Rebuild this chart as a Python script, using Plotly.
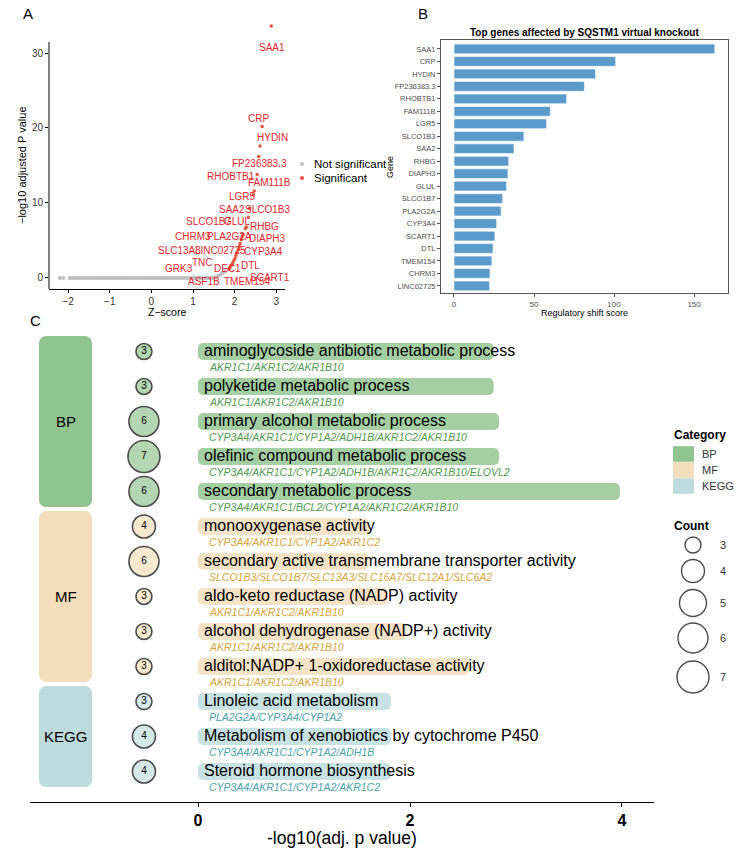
import plotly.graph_objects as go

W, H = 752, 856
FONT = "Liberation Sans, Arial, sans-serif"


def fx(p):
    return p / W


def fy(p):
    return 1 - p / H


# ---------------- Panel A : volcano ----------------
ns_z = [-2.20, -2.12, -1.96, -1.90, -1.84, -1.78, -1.72, -1.66, -1.60, -1.54, -1.48,
        -1.42, -1.36, -1.30, -1.24, -1.18, -1.12, -1.06, -1.00, -0.94, -0.88, -0.82,
        -0.76, -0.70, -0.64, -0.58, -0.52, -0.46, -0.40, -0.34, -0.28, -0.22, -0.16,
        -0.10, -0.04, 0.02, 0.08, 0.14, 0.20, 0.26, 0.32, 0.38, 0.44, 0.50, 0.56,
        0.62, 0.68, 0.74, 0.80, 0.86, 0.92, 0.98, 1.04, 1.10, 1.16, 1.22, 1.28,
        1.34, 1.40, 1.46, 1.52, 1.57, 1.62, 1.67, 1.72, 1.77]
ns_p = [0.0] * 60 + [0.05, 0.15, 0.3, 0.5, 0.7, 0.9]

sig_genes = ["SAA1", "CRP", "HYDIN", "FP236383.3", "RHOBTB1", "FAM111B", "LGR5",
             "SLCO1B3", "SAA2", "GLUL", "RHBG", "SLCO1B7", "DIAPH3", "PLA2G2A",
             "CYP3A4", "LINC02725", "CHRM3", "SLC13A3", "DTL", "TMEM154", "SCART1",
             "DEC1", "TNC", "GRK3", "ASF1B"]
sig_z = [2.88, 2.66, 2.61, 2.58, 2.54, 2.47, 2.45, 2.36, 2.33, 2.28, 2.26, 2.20,
         2.18, 2.16, 2.13, 2.11, 2.09, 2.06, 2.03, 2.01, 1.98, 1.95, 1.92, 1.89, 1.86]
sig_p = [33.6, 20.2, 17.6, 16.2, 13.8, 11.6, 11.1, 9.3, 8.1, 6.8, 6.6, 5.8, 5.5,
         5.1, 4.6, 4.2, 3.8, 3.4, 3.0, 2.6, 2.3, 2.0, 1.7, 1.4, 1.15]
# repelled label positions (data units)
lab_z = [2.90, 2.57, 2.90, 2.60, 1.92, 2.83, 2.20, 2.78, 1.94, 2.07, 2.72, 1.37,
         2.78, 1.88, 2.69, 1.65, 1.01, 0.68, 2.37, 2.30, 2.85, 1.82, 1.22, 0.67, 1.27]
lab_p = [30.7, 21.3, 18.7, 15.2, 13.5, 12.7, 10.9, 9.1, 9.1, 7.5, 6.9, 7.5, 5.2,
         5.5, 3.5, 3.7, 5.5, 3.7, 1.6, -0.5, 0.0, 1.3, 2.0, 1.3, -0.5]

# ---------------- Panel B : bar ----------------
b_genes = ["SAA1", "CRP", "HYDIN", "FP236383.3", "RHOBTB1", "FAM111B", "LGR5",
           "SLCO1B3", "SAA2", "RHBG", "DIAPH3", "GLUL", "SLCO1B7", "PLA2G2A",
           "CYP3A4", "SCART1", "DTL", "TMEM154", "CHRM3", "LINC02725"]
b_scores = [163.0, 101.0, 88.5, 81.5, 70.4, 60.2, 57.9, 43.7, 37.5, 34.2, 33.7,
            32.9, 30.4, 29.4, 26.7, 25.6, 24.4, 23.7, 22.5, 22.3]

# ---------------- Panel C : enrichment ----------------
terms = ["aminoglycoside antibiotic metabolic process",
         "polyketide metabolic process",
         "primary alcohol metabolic process",
         "olefinic compound metabolic process",
         "secondary metabolic process",
         "monooxygenase activity",
         "secondary active transmembrane transporter activity",
         "aldo-keto reductase (NADP) activity",
         "alcohol dehydrogenase (NADP+) activity",
         "alditol:NADP+ 1-oxidoreductase activity",
         "Linoleic acid metabolism",
         "Metabolism of xenobiotics by cytochrome P450",
         "Steroid hormone biosynthesis"]
term_cat = ["BP"] * 5 + ["MF"] * 5 + ["KEGG"] * 3
term_count = [3, 3, 6, 7, 6, 4, 6, 3, 3, 3, 3, 4, 4]
term_logp = [2.79, 2.79, 2.84, 2.84, 3.98, 1.61, 1.61, 1.79, 1.97, 2.56, 1.82, 1.82, 1.82]
term_genes = ["AKR1C1/AKR1C2/AKR1B10",
              "AKR1C1/AKR1C2/AKR1B10",
              "CYP3A4/AKR1C1/CYP1A2/ADH1B/AKR1C2/AKR1B10",
              "CYP3A4/AKR1C1/CYP1A2/ADH1B/AKR1C2/AKR1B10/ELOVL2",
              "CYP3A4/AKR1C1/BCL2/CYP1A2/AKR1C2/AKR1B10",
              "CYP3A4/AKR1C1/CYP1A2/AKR1C2",
              "SLCO1B3/SLCO1B7/SLC13A3/SLC16A7/SLC12A1/SLC6A2",
              "AKR1C1/AKR1C2/AKR1B10",
              "AKR1C1/AKR1C2/AKR1B10",
              "AKR1C1/AKR1C2/AKR1B10",
              "PLA2G2A/CYP3A4/CYP1A2",
              "CYP3A4/AKR1C1/CYP1A2/ADH1B",
              "CYP3A4/AKR1C1/CYP1A2/AKR1C2"]
cat_order = ["BP", "MF", "KEGG"]
legend_counts = [3, 4, 5, 6, 7]

# styles
box_col = {"BP": "#8FC48F", "MF": "#F2DEBA", "KEGG": "#BDDADD"}
bar_col = {"BP": "#A3CFA3", "MF": "#F4E3C6", "KEGG": "#C8E1E2"}
circ_col = {"BP": "#93C693", "MF": "#F4E0BC", "KEGG": "#C6E0E1"}
gene_col = {"BP": "#4F9A4F", "MF": "#D6A43C", "KEGG": "#4AA2AC"}
size_map = {3: 16, 4: 23, 5: 27, 6: 30, 7: 32}

fig = go.Figure()
ann = []

# ---- A traces
fig.add_trace(go.Scatter(x=ns_z, y=ns_p, mode="markers", xaxis="x", yaxis="y",
                         marker=dict(size=4, color="#BEBEBE"), showlegend=False,
                         hoverinfo="skip"))
fig.add_trace(go.Scatter(x=sig_z, y=sig_p, mode="markers", xaxis="x", yaxis="y",
                         marker=dict(size=3.5, color="#E5533D"), showlegend=False))
for g, lz, lp in zip(sig_genes, lab_z, lab_p):
    ann.append(dict(x=lz, y=lp, xref="x", yref="y", text=g, showarrow=False,
                    font=dict(size=10, color="#E3242B", family=FONT)))

# ---- B trace
fig.add_trace(go.Bar(x=b_scores, y=b_genes, orientation="h", xaxis="x2", yaxis="y2",
                     width=0.78, marker=dict(color="#5A9BCB",
                                             line=dict(color="white", width=0.6)),
                     showlegend=False))

# ---- C traces
rows = list(range(len(terms)))
for cat in cat_order:
    idx = [i for i in rows if term_cat[i] == cat]
    center = sum(idx) / len(idx)
    span = len(idx) - 1 + 0.886
    fig.add_trace(go.Bar(y=[center], x=[0.5], base=[-1.5], orientation="h",
                         width=[span], xaxis="x3", yaxis="y3",
                         marker=dict(color=box_col[cat], cornerradius=7,
                                     line=dict(width=0)),
                         showlegend=False, hoverinfo="skip"))
    ann.append(dict(x=-1.25, y=center, xref="x3", yref="y3", text=cat, showarrow=False,
                    font=dict(size=15, color="black", family=FONT)))
    fig.add_trace(go.Bar(y=idx, x=[term_logp[i] for i in idx], base=[0] * len(idx),
                         orientation="h", width=0.486, xaxis="x3", yaxis="y3",
                         marker=dict(color=bar_col[cat], cornerradius=5, line=dict(width=0)),
                         showlegend=False))
    fig.add_trace(go.Scatter(x=[-0.51] * len(idx), y=idx, mode="markers+text",
                             xaxis="x3", yaxis="y3",
                             text=[str(term_count[i]) for i in idx],
                             textposition="middle center",
                             textfont=dict(size=10, color="black", family=FONT),
                             marker=dict(size=[size_map[term_count[i]] for i in idx],
                                         color=circ_col[cat],
                                         line=dict(color="black", width=1.6)),
                             showlegend=False))

for i in rows:
    ann.append(dict(x=0, y=i, xref="x3", yref="y3", text=terms[i], showarrow=False,
                    xanchor="left", xshift=4, yshift=1,
                    font=dict(size=16, color="black", family=FONT)))
    ann.append(dict(x=0, y=i + 0.43, xref="x3", yref="y3",
                    text="<i>" + term_genes[i] + "</i>", showarrow=False,
                    xanchor="left", xshift=9,
                    font=dict(size=10.5, color=gene_col[term_cat[i]], family=FONT)))

# ---- legends drawn on an overlay axis (pixel units)
fig.add_trace(go.Scatter(x=[302, 302], y=[164, 178], mode="markers", xaxis="x4", yaxis="y4",
                         marker=dict(size=4, color=["#BEBEBE", "#E5533D"]),
                         showlegend=False, hoverinfo="skip"))
for lab, yy in zip(["Not significant", "Significant"], [164, 178]):
    ann.append(dict(x=312, y=yy, xref="x4", yref="y4", text=lab, showarrow=False,
                    xanchor="left", font=dict(size=11.5, color="black", family=FONT)))

cat_y = [454, 470, 486]
fig.add_trace(go.Bar(y=cat_y, x=[21] * 3, base=[673] * 3, orientation="h", width=15.6,
                     xaxis="x4", yaxis="y4",
                     marker=dict(color=[box_col[c] for c in cat_order], line=dict(width=0)),
                     showlegend=False, hoverinfo="skip"))
for c, yy in zip(cat_order, cat_y):
    ann.append(dict(x=700, y=yy, xref="x4", yref="y4", text=c, showarrow=False,
                    xanchor="left", font=dict(size=11, color="#333", family=FONT)))
ann.append(dict(x=672, y=435, xref="x4", yref="y4", text="<b>Category</b>", showarrow=False,
                xanchor="left", font=dict(size=12, color="black", family=FONT)))
ann.append(dict(x=672, y=526, xref="x4", yref="y4", text="<b>Count</b>", showarrow=False,
                xanchor="left", font=dict(size=12, color="black", family=FONT)))
cnt_y = [545, 571, 603, 638, 677]
fig.add_trace(go.Scatter(x=[693] * 5, y=cnt_y, mode="markers", xaxis="x4", yaxis="y4",
                         marker=dict(size=[size_map[c] for c in legend_counts], color="white",
                                     line=dict(color="black", width=1.4)),
                         showlegend=False, hoverinfo="skip"))
for c, yy in zip(legend_counts, cnt_y):
    ann.append(dict(x=718, y=yy, xref="x4", yref="y4", text=str(c), showarrow=False,
                    xanchor="left", font=dict(size=11, color="#333", family=FONT)))


def pann(x, y, text, size, color="black", angle=0, xanchor="center", bold=False):
    t = "<b>" + text + "</b>" if bold else text
    ann.append(dict(x=fx(x), y=fy(y), xref="paper", yref="paper", text=t, showarrow=False,
                    xanchor=xanchor, yanchor="middle", textangle=angle,
                    font=dict(size=size, color=color, family=FONT)))


pann(28, 13, "A", 15)
pann(423, 13, "B", 15)
pann(35, 320, "C", 15)
pann(167, 312, "Z−score", 10.5)
pann(22, 165, "−log10 adjusted P value", 11, angle=-90)
pann(584.5, 32, "Top genes affected by SQSTM1 virtual knockout", 10, bold=True)
pann(584.5, 313, "Regulatory shift score", 9)
pann(390, 167, "Gene", 9, angle=-90)
pann(342, 838, "-log10(adj. p value)", 17.5)

# left spine of panel A only up to the top of its visible scale
Y_SPINE = [-1.47, 31.47]
shapes = [dict(type="line", xref="x domain", yref="y", x0=0, x1=0,
               y0=Y_SPINE[0], y1=Y_SPINE[1], line=dict(color="black", width=1))]

fig.update_layout(
    width=W, height=H, margin=dict(l=0, r=0, t=0, b=0),
    paper_bgcolor="white", plot_bgcolor="rgba(0,0,0,0)",
    barmode="overlay", font=dict(family=FONT),
    annotations=ann, shapes=shapes,
    xaxis=dict(domain=[fx(49), fx(285)], range=[-2.46, 3.21], anchor="y",
               showline=True, linecolor="black", linewidth=1, ticks="outside",
               ticklen=3, tickcolor="black", tickvals=[-2, -1, 0, 1, 2, 3],
               ticktext=["−2", "−1", "0", "1", "2", "3"],
               tickfont=dict(size=10, color="#333"), showgrid=False, zeroline=False),
    yaxis=dict(domain=[fy(289), fy(15.5)], range=[-1.47, 35.0], anchor="x",
               showline=False, ticks="outside",
               ticklen=3, tickcolor="black", tickvals=[0, 10, 20, 30],
               tickfont=dict(size=10, color="#333"), showgrid=False, zeroline=False),
    xaxis2=dict(domain=[fx(441), fx(728)], range=[-8.1, 171.2], anchor="y2",
                showline=True, mirror=True, linecolor="#555", linewidth=1,
                ticks="outside", ticklen=3, tickcolor="#555",
                tickvals=[0, 50, 100, 150], tickfont=dict(size=8, color="#4D4D4D"),
                showgrid=False, zeroline=False),
    yaxis2=dict(domain=[fy(293), fy(40)], range=[19.57, -0.72], anchor="x2",
                type="category", categoryorder="array", categoryarray=b_genes,
                showline=True, mirror=True, linecolor="#555", linewidth=1,
                ticks="outside", ticklen=3, tickcolor="#555",
                tickfont=dict(size=7.5, color="#4D4D4D"), showgrid=False, zeroline=False),
    xaxis3=dict(domain=[fx(30), fx(654)], range=[-1.585, 4.302], anchor="y3",
                showline=True, linecolor="black", linewidth=1.2, ticks="outside",
                ticklen=4, tickcolor="black", tickvals=[0, 2, 4],
                tickfont=dict(size=16, color="black", weight="bold"),
                showgrid=False, zeroline=False),
    yaxis3=dict(domain=[fy(802), fy(330)], range=[12.87, -0.614], anchor="x3",
                visible=False),
    xaxis4=dict(domain=[0, 1], range=[0, W], anchor="y4", visible=False),
    yaxis4=dict(domain=[0, 1], range=[H, 0], anchor="x4", visible=False),
)

fig.write_html("out.html", config={"displayModeBar": False},
               post_script="document.body.style.margin='0px';")
